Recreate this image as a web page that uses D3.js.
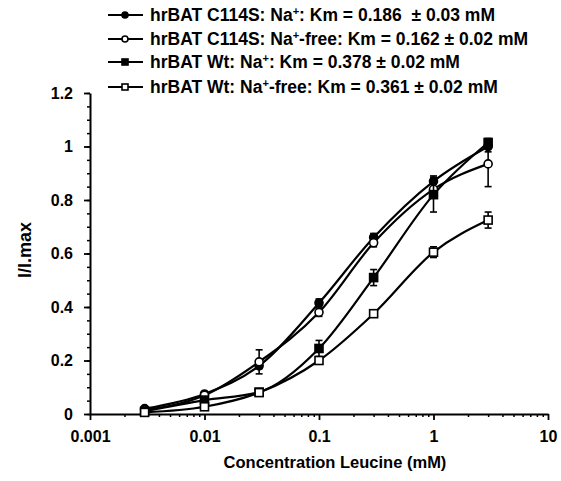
<!DOCTYPE html>
<html>
<head>
<meta charset="utf-8">
<script src="https://cdn.jsdelivr.net/npm/d3@7"></script>
<style>
  body { margin: 0; background: #fff; }
  svg text { font-family: "Liberation Sans", Arial, sans-serif; fill: #000; white-space: pre; }
</style>
</head>
<body>
<div id="chart"></div>
<script>
var width = 561,
  height = 481;

// data
var conc = [0.003, 0.01, 0.03, 0.1, 0.3, 1, 3]; // mM leucine

var c114sNa = [0.02, 0.075, 0.18, 0.415, 0.66, 0.87, 1.0];
var c114sNaErr = [0, 0, 0.01, 0.015, 0.015, 0.02, 0.02];

var c114sFree = [0.015, 0.07, 0.195, 0.38, 0.64, 0.84, 0.935];
var c114sFreeErr = [0, 0, 0.045, 0.015, 0.015, 0.02, 0.085];

var wtNa = [0.01, 0.052, 0.082, 0.245, 0.51, 0.82, 1.015];
var wtNaErr = [0, 0, 0, 0.03, 0.03, 0.065, 0.015];

var wtFree = [0.006, 0.027, 0.08, 0.2, 0.375, 0.605, 0.725];
var wtFreeErr = [0, 0, 0, 0.01, 0.01, 0.02, 0.03];

var legendPre = ['hrBAT C114S: Na', 'hrBAT C114S: Na', 'hrBAT Wt: Na', 'hrBAT Wt: Na'];
var legendPost = [': Km = 0.186  \u00b1 0.03 mM', '-free: Km = 0.162 \u00b1 0.02 mM',
  ': Km = 0.378 \u00b1 0.02 mM', '-free: Km = 0.361 \u00b1 0.02 mM'];

var xTicks = [0.001, 0.01, 0.1, 1, 10];
var yTicks = [0, 0.2, 0.4, 0.6, 0.8, 1, 1.2];

var series = [
  { vals: c114sNa, err: c114sNaErr, shape: 'circle', filled: true },
  { vals: c114sFree, err: c114sFreeErr, shape: 'circle', filled: false },
  { vals: wtNa, err: wtNaErr, shape: 'square', filled: true },
  { vals: wtFree, err: wtFreeErr, shape: 'square', filled: false }
];

var x = d3.scaleLog().domain([0.001, 10]).range([90, 548]);
var y = d3.scaleLinear().domain([0, 1.2]).range([414, 93]);

var svg = d3.select('#chart')
  .append('svg')
  .attr('width', width)
  .attr('height', height);

// minor ticks
var xMinor = [];
for (var d = 0.001; d < 10; d *= 10) {
  for (var k = 2; k <= 9; k++) xMinor.push(d * k);
}
svg.append('g')
  .attr('transform', 'translate(0,414)')
  .call(d3.axisBottom(x).tickValues(xMinor).tickSize(3).tickFormat(''))
  .call(g => g.select('.domain').remove())
  .selectAll('line').attr('stroke-width', 1.5);

var yMinor = d3.range(0, 1.2001, 0.05);
svg.append('g')
  .attr('transform', 'translate(90,0)')
  .call(d3.axisLeft(y).tickValues(yMinor).tickSize(3).tickFormat(''))
  .call(g => g.select('.domain').remove())
  .selectAll('line').attr('stroke-width', 1.5);

// axes
var xAxis = svg.append('g')
  .attr('transform', 'translate(0,414)')
  .call(d3.axisBottom(x).tickValues(xTicks).tickSizeInner(6).tickSizeOuter(0).tickPadding(11)
    .tickFormat(d => String(d)));

var yAxis = svg.append('g')
  .attr('transform', 'translate(90,0)')
  .call(d3.axisLeft(y).tickValues(yTicks).tickSizeInner(6).tickSizeOuter(0).tickPadding(11)
    .tickFormat(d => d === 0 ? '0' : String(+d.toFixed(1))));

[xAxis, yAxis].forEach(function(g) {
  g.select('.domain').attr('stroke-width', 2);
  g.selectAll('line').attr('stroke-width', 1.8);
  g.selectAll('text')
    .attr('font-size', 16)
    .attr('font-weight', 'bold')
    .attr('font-family', '"Liberation Sans", Arial, sans-serif');
});

svg.append('text')
  .attr('x', 335)
  .attr('y', 468)
  .attr('text-anchor', 'middle')
  .attr('font-size', 16.5)
  .attr('font-weight', 'bold')
  .text('Concentration Leucine (mM)');

svg.append('text')
  .attr('transform', 'translate(31,250) rotate(-90)')
  .attr('text-anchor', 'middle')
  .attr('font-size', 18)
  .attr('font-weight', 'bold')
  .text('I/I.max');

// curves
var line = d3.line()
  .x((d, i) => x(conc[i]))
  .y(d => y(d))
  .curve(d3.curveMonotoneX);

series.forEach(function(s) {
  svg.append('path')
    .attr('d', line(s.vals))
    .attr('fill', 'none')
    .attr('stroke', '#000')
    .attr('stroke-width', 2.2);
});

// error bars + markers
function drawMarker(g, shape, filled, cx, cy, size) {
  if (shape === 'circle') {
    g.append('circle')
      .attr('cx', cx).attr('cy', cy).attr('r', size / 2)
      .attr('fill', filled ? '#000' : '#fff')
      .attr('stroke', '#000').attr('stroke-width', 1.6);
  } else {
    g.append('rect')
      .attr('x', cx - size / 2).attr('y', cy - size / 2)
      .attr('width', size).attr('height', size)
      .attr('fill', filled ? '#000' : '#fff')
      .attr('stroke', '#000').attr('stroke-width', 1.6);
  }
}

series.forEach(function(s) {
  var g = svg.append('g');
  s.vals.forEach(function(v, i) {
    var cx = x(conc[i]);
    if (s.err[i] > 0) {
      var y1 = y(v - s.err[i]), y2 = y(v + s.err[i]);
      g.append('line').attr('x1', cx).attr('x2', cx).attr('y1', y1).attr('y2', y2)
        .attr('stroke', '#000').attr('stroke-width', 1.6);
      [y1, y2].forEach(function(yy) {
        g.append('line').attr('x1', cx - 3.5).attr('x2', cx + 3.5).attr('y1', yy).attr('y2', yy)
          .attr('stroke', '#000').attr('stroke-width', 1.6);
      });
    }
    drawMarker(g, s.shape, s.filled, cx, y(v), 8);
  });
});

// legend
var legendY = [15, 39, 62, 87];
series.forEach(function(s, i) {
  var g = svg.append('g').attr('transform', 'translate(0,' + legendY[i] + ')');
  g.append('line').attr('x1', 108).attr('x2', 143).attr('y1', 0).attr('y2', 0)
    .attr('stroke', '#000').attr('stroke-width', 2);
  drawMarker(g, s.shape, s.filled, 125, 0, 6);
  var t = g.append('text')
    .attr('x', 150)
    .attr('y', 6)
    .attr('font-size', 17.5)
    .attr('font-weight', 'bold');
  t.append('tspan').text(legendPre[i]);
  t.append('tspan').attr('font-size', 11).attr('dy', -6).text('+');
  t.append('tspan').attr('dy', 6).text(legendPost[i]);
});
</script>
</body>
</html>
